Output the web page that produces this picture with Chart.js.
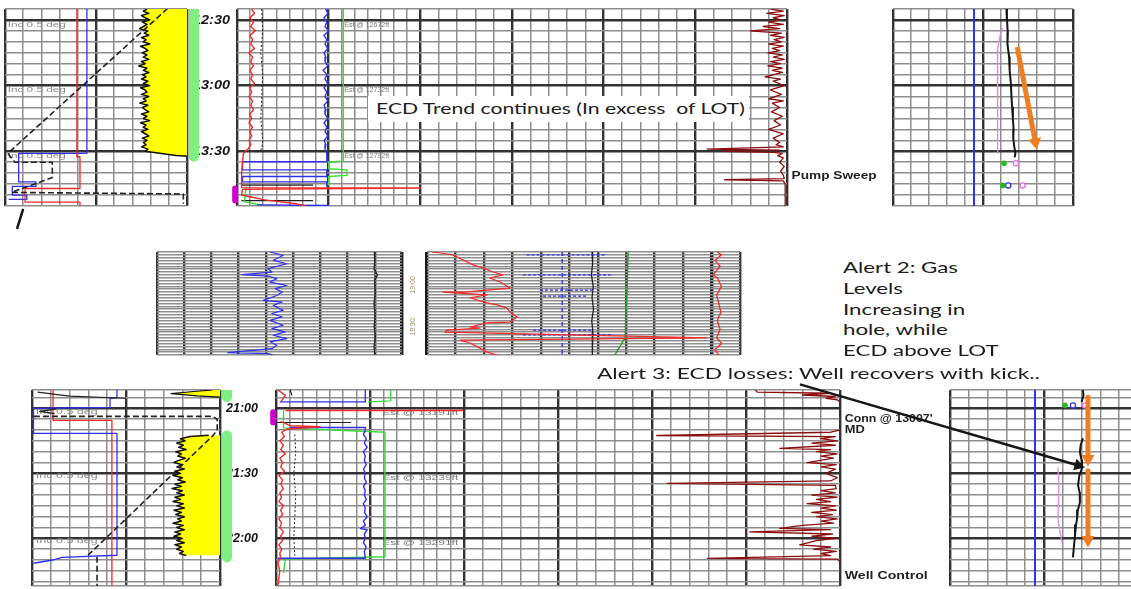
<!DOCTYPE html>
<html>
<head>
<meta charset="utf-8">
<script src="https://cdn.jsdelivr.net/npm/chart.js@4.4.0/dist/chart.umd.min.js"></script>
<style>
  html, body { margin: 0; padding: 0; background: #fff; }
  #page { position: relative; width: 1131px; height: 589px; overflow: hidden; background: #fff; }
  #page canvas { position: absolute; }
  .note { position: absolute; font-family: Lato, "Open Sans", sans-serif; font-size: 16px; line-height: 16px;
          color: #1c1c1c; white-space: pre; transform-origin: 0 0; }
  #ecdBox { position: absolute; left: 368px; top: 96px; width: 381px; height: 26px; background: #fff; }
</style>
</head>
<body>
<div id="page"></div>
<script>
// ---------- top row (time in minutes after 12:00, x in track units) ----------
const topTimeLabels = ['12:30', '13:00', '13:30'];
const topTimeAt = [30, 60, 90];
const topIncAt = [32, 62, 92];
const topDepthLabels = ['Est @ 12672ft', 'Est @ 12732ft', 'Est @ 12792ft'];
const topDepthAt = [32, 62, 92];

const aRed = [[3.95,25],[3.95,92.5],[4.12,92.5],[4.12,107],[1.1,107],[1.1,113.2],[4.12,113.2],[4.12,115]];
const aBlue = [[4.5,25],[4.5,91],[0.75,91],[0.75,104],[1.7,104],[1.7,106],[0.4,106],[0.4,110],[1.2,110],[1.2,112],[0.2,112]];
const aDash = [[9.3,22],[0.15,91],[0.55,95],[2.6,95],[2.6,102],[0.35,108.8],[9.8,109.5],[9.8,114]];
const aSlash = [[1.0,116.3],[0.66,125.5]];
const aGamma = [[7.8,25],[7.6,26],[7.9,27],[7.5,28],[7.7,29],[7.95,30],[7.55,31],[7.8,32],[7.6,33],[7.4,34],
  [7.85,35],[7.65,36],[7.9,37],[7.5,38],[7.75,39],[7.6,40],[7.95,41],[7.45,42],[7.7,43],[7.85,44],[7.55,45],
  [7.8,46],[7.6,47],[7.9,48],[7.5,49],[7.7,50],[7.35,51],[7.8,52],[7.6,53],[7.9,54],[7.55,55],[7.75,56],[7.5,57],
  [7.85,58],[7.6,59],[7.95,60],[7.45,61],[7.7,62],[7.8,63],[7.5,64],[7.9,65],[7.6,66],[7.75,67],[7.4,68],[7.85,69],
  [7.55,70],[7.7,71],[7.9,72],[7.5,73],[7.8,74],[7.6,75],[7.95,76],[7.45,77],[7.75,78],[7.6,79],[7.85,80],[7.5,81],
  [7.7,82],[7.9,83],[7.55,84],[7.8,85],[7.6,86],[7.75,87],[7.5,88],[7.85,89],[7.7,90],[8.4,90.8],[8.9,91.4],
  [9.4,91.9],[10,92.3]];
const aBar = [[1.43,25],[1.43,92.5]];

const bRed = [[0.16,25],[0.19,27],[0.14,29],[0.18,31],[0.15,33],[0.2,35],[0.14,37],[0.17,39],[0.15,41],[0.19,43],
  [0.13,45],[0.17,47],[0.15,49],[0.18,51],[0.14,53],[0.17,55],[0.15,57],[0.19,59],[0.14,61],[0.16,63],[0.13,65],
  [0.17,67],[0.15,69],[0.18,71],[0.14,73],[0.16,75],[0.13,77],[0.17,79],[0.14,81],[0.16,83],[0.13,85],[0.15,87],
  [0.12,89],[0.07,91],[0.06,95],[0.05,100],[0.05,106.6],[2.0,106.8],[0.06,107.4],[0.05,110],[0.3,112.2],[0.65,114],[0.75,115]];
const bBlue = [[0.97,25],[0.99,27],[0.95,29],[0.98,31],[0.96,33],[1.0,35],[0.95,37],[0.98,39],[0.96,41],[0.99,43],
  [0.95,45],[0.97,47],[0.96,49],[0.99,51],[0.94,53],[0.98,55],[0.96,57],[0.99,59],[0.95,61],[0.98,63],[0.96,65],
  [0.99,67],[0.95,69],[0.97,71],[0.96,73],[0.99,75],[0.95,77],[0.98,79],[0.96,81],[0.99,83],[0.95,85],[0.97,87],
  [0.96,89],[0.98,91],[0.98,94.8],[0.06,94.8],[0.06,98.5],[0.98,98.5],[0.98,101.5],[0.06,101.5],[0.06,104],
  [0.98,104],[0.98,106],[null,110],[0.22,114.5],[1.0,114.8]];
const bGreen = [[1.16,25],[1.16,94.5],[1.0,95],[1.0,98],[1.2,98.5],[1.2,101],[1.0,101.5],[1.0,105.5],
  [null,105.8],[0.1,106],[0.08,113],[0.3,115]];
const bBlackDot = [[0.27,25],[0.28,35],[0.26,45],[0.28,55],[0.27,65],[0.26,75],[0.28,85],[0.27,89],[0.2,91]];
const bBlackH = [[0.05,105.5],[0.83,105.5],[null,109],[0.05,112.5],[0.83,112.5]];
const bMark = [[-0.02,107],[-0.02,112.5]];
const bMud = [[5.82,25],[5.96,26],[5.78,27],[5.97,28],[5.85,29],[5.93,30],[5.8,31],[5.96,32],[5.74,33],[5.92,34],
  [5.6,35],[5.94,36],[5.82,37],[5.97,38],[5.86,39],[5.94,40],[5.8,41],[5.96,42],[5.84,43],[5.92,44],[5.79,45],
  [5.95,46],[5.85,47],[5.97,48],[5.82,49],[5.93,50],[5.79,51],[5.95,52],[5.84,53],[5.95,54],[5.76,56],[5.93,57],
  [5.85,58],[5.97,60],[5.82,62],[5.94,64],[5.87,65],[5.8,66],[5.96,67],[5.84,68],[5.92,70],[5.83,72],[5.95,74],
  [5.86,76],[5.93,78],[5.8,80],[5.96,82],[5.85,84],[5.92,86],[5.88,87],[5.96,88],[5.13,89],[5.92,89.5],[5.3,90],
  [5.85,90.5],[5.95,91],[5.9,92],[5.96,93],[5.92,95],[5.97,97],[5.93,99],[5.96,101],[5.97,102.5],[5.32,103],
  [5.96,103.5],[5.98,105],[5.98,115]];

const dBlue = [[4.5,25],[4.5,115]];
const dBlack = [[6.3,25],[6.33,30],[6.38,36],[6.36,41],[6.45,47],[6.48,53],[6.55,59],[6.58,65],[6.62,70],[6.66,75],
  [6.7,80],[6.68,84],[6.74,88],[6.8,91],[6.76,92.8]];
const dPink = [[6.1,33.7],[5.95,37],[5.8,43.8],[5.78,50],[5.82,58],[5.83,66.7],[5.8,75],[5.83,83],[5.82,91]];
const dArrow = [[6.9,42.4],[7.88,84.6]];
const dGreenDots = [[6.17,95.5],[6.1,105.6]];
const dBlueRings = [[6.4,105.6]];
const dPinkRings = [[6.83,95.5],[7.2,105.6]];

// ---------- middle row (rows of the strip) ----------
const midTimeLabels = ['19:00', '19:30'];
const midTimeAt = [11.5, 26.2];
const eBlue = [[4.15,0],[4.63,1.2],[4.27,2.9],[4.77,4.1],[4.08,5.8],[4.22,7],[3.12,7.9],[4.08,8.4],[4.4,9.3],[4.15,10.5],
  [4.77,11.7],[4.34,12.8],[4.6,14],[4.4,15.2],[3.9,16.9],[4.6,17.5],[4.27,18.6],[4.63,20.4],[4.22,21.5],[4.6,22.7],
  [4.15,23.9],[4.63,25.6],[4.22,26.8],[4.7,27.9],[4.27,29.1],[4.77,30.3],[4.15,31.4],[4.4,32.6],[4.22,33.8],
  [2.6,35.2],[4.08,35.5],[4.27,36]];
const eBlack = [[7.98,0],[8.0,3],[7.97,6],[8.1,8],[7.99,10],[8.02,14],[7.97,18],[8.01,22],[7.98,26],[8.02,30],[7.97,33],[8.0,36]];
const fRed = [[0.18,0],[0.46,0.35],[0.91,1],[1.27,2.8],[1.62,4.5],[1.97,5.6],[2.32,7],[2.67,8],[2.21,9.1],[2.57,10.5],
  [2.92,12.6],[1.27,14],[0.56,14],[2.11,15],[1.51,16],[2.11,17.8],[2.46,18.5],[2.81,19.6],[2.92,21],[3.16,22.7],
  [2.92,24.5],[2.11,24.8],[1.51,26.2],[1.86,26.6],[0.7,27.3],[0.63,28],[9.84,30],[1.16,30.8],[1.51,31.8],
  [1.86,33.6],[2.11,35],[2.46,36]];
const fBlueV = [[4.75,0],[4.75,36]];
const fBlueH = [[3.5,1],[6.3,1],[null,4],[3.37,8],[6.54,8],[null,11],[3.97,13.3],[5.83,13.3],[null,14],[4.08,15.4],
  [5.62,15.4],[null,20],[3.73,27.3],[5.83,27.3],[null,28],[3.37,29],[6.54,29]];
const fBlack = [[5.8,0],[5.82,4],[5.78,8],[5.84,12],[5.8,16],[5.85,20],[5.79,24],[5.83,28],[5.8,32],[5.82,36]];
const fGreen = [[7.07,0],[7.04,10],[7.0,20],[6.96,30],[6.6,36]];
const fRed2 = [[10.2,0],[10.35,1],[10.12,3],[10.3,5],[10.05,8],[10.2,9],[10.35,12],[10.18,15],[10.25,18],[10.33,21],
  [10.2,24],[10.3,27],[10.18,30],[10.36,32],[10.12,34],[10.25,36]];

// ---------- bottom row (time in minutes after 20:00) ----------
const botTimeLabels = ['21:00', '21:30', '22:00'];
const botTimeAt = [60, 90, 120];
const botIncAt = [61.5, 91, 121];
const botDepthLabels = ['Est @ 13191ft', 'Est @ 13239ft', 'Est @ 13291ft'];
const botDepthAt = [62, 92, 122];

const gBlue = [[4.52,51.5],[4.52,55],[4.15,55.5],[4.15,59.5],[0.08,60],[0.08,71.5],[4.52,71.5],[4.52,127.8],[1.6,128.8],[1.1,130],[0.08,131.5]];
const gRed = [[1.12,51.5],[1.12,65.5],[4.25,65.5],[4.25,142]];
const gDash = [[0.1,63.7],[9.6,63.7],[9.85,65],[9.85,70],[9.63,72.5],[2.98,127.8]];
const gDash2 = [[3.46,128.5],[3.46,142]];
const gBlackTop = [[0.3,52.5],[2.0,54.3],[5.0,55.3],[null,58],[1.3,60.2],[0.4,61.4],[1.2,62.4]];
const gGammaTop = [[9.6,51.5],[8.6,52.2],[7.4,53.2],[8.8,54.2],[10,54.8]];
const gGamma = [[9.4,72.4],[8.4,73],[7.9,74],[8.15,75],[7.7,76],[8.05,77],[7.8,78],[8.2,79],[7.65,80],[7.95,81],
  [7.75,82],[8.15,83],[7.8,84],[7.55,85],[8.0,86],[7.7,87],[8.1,88],[7.6,89],[7.9,90],[7.5,91],[8.0,92],[7.75,93],
  [8.15,94],[7.6,95],[7.95,96],[7.45,97],[8.0,98],[7.7,99],[8.1,100],[7.6,101],[7.9,102],[7.5,103],[8.05,104],
  [7.7,105],[8.1,106],[7.55,107],[7.95,108],[7.65,109],[8.1,110],[7.75,111],[7.95,112],[7.5,113],[8.05,114],
  [7.7,115],[8.1,116],[7.6,117],[7.9,118],[7.55,119],[8.0,120],[7.7,121],[8.1,122],[7.6,123],[7.95,124],[7.7,125],
  [8.05,126],[7.85,127],[8.2,127.9]];
const gBar = [[1.27,51.5],[1.27,54.8],[null,60],[1.27,72.5],[1.27,128.8]];

const hBlue = [[0.95,51.5],[0.95,57],[0.04,57],[null,60],[0.15,68.8],[0.95,68.8],[0.95,70],[0.93,72],[0.96,74],[0.94,76],
  [0.97,78],[0.93,80],[0.95,82],[0.94,84],[0.96,86],[0.93,88],[0.95,90],[0.94,92],[0.96,94],[0.93,96],[0.95,98],
  [0.94,100],[0.96,102],[0.93,104],[0.95,106],[0.94,108],[0.97,110],[0.93,112],[0.95,114],[0.9,115.5],[0.97,116],
  [0.94,118],[0.95,120],[0.93,122],[0.96,124],[0.94,126],[0.95,129.2],[0.02,129.2]];
const hGreen = [[1.22,51.5],[1.22,56.5],[0.98,57],[null,59],[0.08,61],[0.08,69],[1.16,71],[1.16,128.5],[0.1,129.5],[0.08,136]];
const hRed = [[0.02,51.5],[0.1,54],[0.05,57],[null,59],[0.1,61],[1.99,61],[null,63],[0.05,66],[0.15,68],[0.47,68.5],
  [0.12,69.5],[0.06,71],[0.09,73],[0.04,75],[0.08,77],[0.05,79],[0.1,81],[0.04,83],[0.07,85],[0.05,87],[0.09,89],
  [0.03,91],[0.07,93],[0.05,95],[0.08,97],[0.04,99],[0.06,101],[0.03,103],[0.08,105],[0.05,107],[0.07,109],
  [0.03,111],[0.06,113],[0.04,115],[0.08,117],[0.05,119],[0.07,121],[0.03,123],[0.06,125],[0.04,127],[0.05,129],
  [0.02,131],[0.04,135],[0.02,142]];
const hBlackDot = [[0.2,72],[0.21,80],[0.19,90],[0.21,100],[0.2,110],[0.19,120],[0.2,128]];
const hBlackH = [[0.15,51.5],[0.17,54],[null,60],[0.01,66.5],[0.8,66.5]];
const hMark = [[-0.03,61.8],[-0.03,66.5]];
const hMud = [[5.1,51.5],[5.12,52.5],[5.9,53],[5.6,53.8],[5.95,54.5],[5.85,55.4],[5.97,56],[6.0,57],[6.0,70],[5.9,71],
  [4.05,72.5],[5.95,73],[5.8,74],[5.97,75],[5.7,76],[5.95,77],[5.36,78.5],[5.9,79],[5.75,80],[5.97,81],[5.8,82],
  [5.93,83],[5.65,85],[5.96,86],[5.8,87],[5.95,88],[5.85,90],[5.97,92],[5.9,93.5],[4.16,94.6],[5.95,95.5],[5.96,97],
  [5.8,98],[5.95,99],[5.7,100],[5.97,101],[5.75,102],[5.9,103],[5.65,104],[5.95,105],[5.8,106],[5.96,107],[5.7,108],
  [5.92,109],[5.75,110],[5.97,111],[5.8,112],[5.93,113],[5.6,114],[5.36,115.4],[5.9,116],[5.04,117],[5.92,118],
  [5.7,119],[5.95,120],[5.75,121],[5.57,123],[5.9,124],[5.72,125],[5.96,126],[5.8,127],[5.9,128],[4.59,129.2],
  [5.97,129.6],[6.0,130.5],[6.0,142]];

const iBlue = [[4.52,51.5],[4.52,142]];
const iBlack1 = [[7.07,51.5],[7.1,54],[7.0,57]];
const iBlack2 = [[7.07,73.8],[6.95,77],[6.91,80.3],[7.0,84],[7.02,87.7],[6.88,91],[6.81,95.5],[6.9,99],[6.91,103.4],
  [6.8,107],[6.76,110.8],[6.7,114],[6.65,118.6],[6.6,123],[6.54,128.8]];
const iPink = [[5.74,87.2],[5.8,95.5],[5.77,103],[5.74,110.8],[5.85,117],[5.96,121.8]];
const iArrow1 = [[7.34,54.9],[7.34,82]];
const iArrow2 = [[7.34,88.8],[7.34,119.4]];
const iAlertArrow = [[-7.98,48.9],[6.69,86.0]];
const iGreenDots = [[6.12,58.6]];
const iBlueRings = [[6.54,58.6]];
const iPinkRings = [[7.18,58.6]];

// ---------- colours / grid ----------
const RED = '#f22a2a', BLUE = '#3030f0', GREEN = '#35dd35', MUD = '#8c0d0d', YELLOW = '#ffff00',
      BAR = '#80ee80', MAGENTA = '#d000d0', ORANGE = '#ef7d22', PINK = '#dc8ce0', INK = '#161616';
const GRID = [['#8e8e8e', 1.5], ['#333333', 2.4], ['#1a1a1a', 3.4]];

const page = document.getElementById('page');

function stepTicks(min, max, step, majorEvery) {
  const out = [{ value: min, lvl: 0 }];
  for (let v = Math.ceil(min / step) * step; v < max; v += step) {
    if (v > min) out.push({ value: v, lvl: v % majorEvery === 0 ? 1 : 0 });
  }
  out.push({ value: max, lvl: 0 });
  return out;
}

function trackTicks(subdivs, span) {
  const out = [];
  subdivs.forEach((n, i) => {
    out.push({ value: i * span, lvl: 1 });
    for (let k = 1; k < n; k++) out.push({ value: i * span + k * span / n, lvl: 0 });
  });
  out.push({ value: subdivs.length * span, lvl: 1 });
  return out;
}

function colTicks(n, heavy) {
  const out = [];
  for (let i = 0; i <= n; i++) out.push({ value: i, lvl: heavy.includes(i) ? 2 : 1 });
  return out;
}

function axis(min, max, ticks, extra) {
  return Object.assign({
    type: 'linear', min, max,
    display: !!ticks,
    ticks: { display: false },
    border: { display: false },
    grid: {
      drawTicks: false,
      color: c => GRID[(c.tick && c.tick.lvl) || 0][0],
      lineWidth: c => GRID[(c.tick && c.tick.lvl) || 0][1]
    },
    afterBuildTicks: s => { if (ticks) s.ticks = ticks.map(t => ({ value: t.value, lvl: t.lvl })); }
  }, extra || {});
}

function ln(pts, color, width, more) {
  return Object.assign({
    data: pts.map(p => ({ x: p[0], y: p[1] })),
    borderColor: color, backgroundColor: color, borderWidth: width,
    pointRadius: 0, fill: false
  }, more || {});
}

function dots(pts, color, ring) {
  return {
    data: pts.map(p => ({ x: p[0], y: p[1] })),
    showLine: false, pointRadius: 2.6,
    pointBackgroundColor: ring ? '#ffffff' : color,
    pointBorderColor: color, pointBorderWidth: ring ? 1.3 : 0.5
  };
}

function drawNotes(chart, items, under) {
  const { ctx, scales } = chart;
  items.forEach(n => {
    if (!!n.under !== under) return;
    ctx.save();
    ctx.font = n.font;
    ctx.fillStyle = n.color;
    ctx.textBaseline = 'middle';
    ctx.textAlign = n.align || 'left';
    ctx.translate(scales.x.getPixelForValue(n.x), scales.y.getPixelForValue(n.y));
    if (n.rot) ctx.rotate(n.rot * Math.PI / 180);
    if (n.w) ctx.scale(n.w / ctx.measureText(n.text).width, 1);
    ctx.fillText(n.text, 0, 0);
    ctx.restore();
  });
}

// arrow heads on the last segment of datasets flagged with arrowHead
Chart.register({
  id: 'arrowHeads',
  afterDatasetsDraw(chart) {
    const ctx = chart.ctx;
    chart.data.datasets.forEach((ds, i) => {
      if (!ds.arrowHead) return;
      const pts = chart.getDatasetMeta(i).data;
      const a = pts[pts.length - 2], b = pts[pts.length - 1];
      const s = ds.arrowHead;
      ctx.save();
      ctx.fillStyle = ds.borderColor;
      ctx.translate(b.x, b.y);
      ctx.rotate(Math.atan2(b.y - a.y, b.x - a.x));
      ctx.beginPath();
      ctx.moveTo(s * 1.6, 0);
      ctx.lineTo(-1, -s);
      ctx.lineTo(-1, s);
      ctx.closePath();
      ctx.fill();
      ctx.restore();
    });
  }
});

function panel(o) {
  const pad = Object.assign({ left: 3, right: 3, top: 3, bottom: 3 }, o.pad);
  const cv = document.createElement('canvas');
  cv.width = o.w + pad.left + pad.right;
  cv.height = o.h + pad.top + pad.bottom;
  cv.style.left = (o.x - pad.left) + 'px';
  cv.style.top = (o.y - pad.top) + 'px';
  page.appendChild(cv);
  const items = o.notes || [];
  return new Chart(cv, {
    type: 'line',
    data: { datasets: o.sets },
    options: {
      indexAxis: 'y',
      responsive: false,
      animation: false,
      devicePixelRatio: 1,
      events: [],
      layout: { padding: pad, autoPadding: false },
      elements: { point: { radius: 0 }, line: { tension: 0, borderJoinStyle: 'round' } },
      plugins: { legend: { display: false }, tooltip: { enabled: false } },
      scales: {
        x: axis(o.xr[0], o.xr[1], o.xt),
        y: axis(o.yr[0], o.yr[1], o.yt, { reverse: true })
      }
    },
    plugins: [{
      id: 'notes',
      beforeDatasetsDraw: c => drawNotes(c, items, true),
      afterDatasetsDraw: c => drawNotes(c, items, false)
    }]
  });
}

const TOP = { y: 9, h: 197, yr: [25, 115] };
const BOT = { y: 390, h: 196, yr: [51.5, 142] };
const topRows = stepTicks(25, 115, 5, 30);
const botRows = stepTicks(51.5, 142, 5, 30);
const midRows = stepTicks(0, 36, 1, 1000);
const smallFont = '8px "Liberation Sans", sans-serif';
const timeFont = 'italic bold 13px "Liberation Sans", sans-serif';
const tagFont = 'bold 10px "Liberation Sans", sans-serif';

// ---- top row ----
panel({ x: 5, w: 182, y: TOP.y, h: TOP.h, xr: [0, 10], yr: TOP.yr, xt: trackTicks([5, 5], 5), yt: topRows,
  pad: { bottom: 26 },
  sets: [ln(aSlash, INK, 2.5, { clip: false }), ln(aDash, '#222', 1.6, { borderDash: [6, 3] }),
         ln(aRed, RED, 1.3), ln(aBlue, BLUE, 1.3),
         ln(aGamma, '#111', 1.5, { fill: { value: 10 }, backgroundColor: YELLOW })],
  notes: topIncAt.map(t => ({ text: 'Inc 0.5 deg', x: 0.15, y: t, font: smallFont, color: '#8a8a8a', w: 58, under: true }))
});
panel({ x: 187, w: 49, y: TOP.y, h: TOP.h, xr: [0, 10], yr: TOP.yr,
  sets: [ln(aBar, BAR, 10)],
  notes: topTimeLabels.map((s, i) => ({ text: s, x: 1.22, y: topTimeAt[i], font: timeFont, color: '#151515', w: 37, under: true }))
});
panel({ x: 237, w: 550, y: TOP.y, h: TOP.h, xr: [0, 6], yr: TOP.yr, xt: trackTicks([7, 7, 5, 5, 5, 5], 1), yt: topRows,
  pad: { left: 7, right: 100 },
  sets: [ln(bMark, MAGENTA, 6, { clip: false }), ln(bRed, RED, 1.4), ln(bBlue, BLUE, 1.4), ln(bGreen, GREEN, 1.4),
         ln(bBlackDot, '#222', 1, { borderDash: [2, 2] }), ln(bBlackH, '#222', 1.2), ln(bMud, MUD, 1.3)],
  notes: topDepthLabels.map((s, i) => ({ text: s, x: 1.17, y: topDepthAt[i], font: smallFont, color: '#7a7a7a', w: 45, under: true }))
    .concat([{ text: 'Pump Sweep', x: 6.05, y: 101.5, font: tagFont, color: '#222', w: 85 }])
});
panel({ x: 893, w: 180, y: TOP.y, h: TOP.h, xr: [0, 10], yr: TOP.yr, xt: trackTicks([5, 5], 5), yt: topRows,
  sets: [ln(dArrow, ORANGE, 5, { arrowHead: 6.5 }), dots(dGreenDots, '#22bb22', false), dots(dBlueRings, BLUE, true),
         dots(dPinkRings, '#e070e0', true), ln(dBlack, INK, 2), ln(dPink, PINK, 1.3), ln(dBlue, BLUE, 2)]
});

// ---- middle row ----
panel({ x: 157, w: 245, y: 252, h: 103, xr: [0, 9], yr: [0, 36], xt: colTicks(9, [9]), yt: midRows,
  pad: { right: 22 },
  sets: [ln(eBlue, BLUE, 1.2), ln(eBlack, '#222', 1.2)],
  notes: midTimeLabels.map((s, i) => ({ text: s, x: 9.41, y: midTimeAt[i], font: '7px "Liberation Sans", sans-serif',
    color: '#9a8a5a', rot: -90, align: 'center' }))
});
panel({ x: 427, w: 313, y: 252, h: 103, xr: [0, 11], yr: [0, 36], xt: colTicks(11, [0, 10]), yt: midRows,
  sets: [ln(fRed, RED, 1.2), ln(fBlueH, BLUE, 1.2, { borderDash: [3, 2] }), ln(fBlueV, BLUE, 1.4, { borderDash: [4, 3] }),
         ln(fBlack, '#222', 1.3), ln(fGreen, '#2a9a2a', 1.4), ln(fRed2, RED, 1.3)]
});

// ---- bottom row ----
panel({ x: 32, w: 188, y: BOT.y, h: BOT.h, xr: [0, 10], yr: BOT.yr, xt: trackTicks([5, 5], 5), yt: botRows,
  sets: [ln(gDash, '#222', 1.6, { borderDash: [6, 3] }), ln(gDash2, '#222', 1.6, { borderDash: [6, 3] }),
         ln(gBlackTop, '#222', 1.2), ln(gBlue, BLUE, 1.3), ln(gRed, RED, 1.3),
         ln(gGammaTop, '#111', 1.2, { fill: { value: 10 }, backgroundColor: YELLOW }),
         ln(gGamma, '#111', 1.5, { fill: { value: 10 }, backgroundColor: YELLOW })],
  notes: botIncAt.map(t => ({ text: 'Inc 0.5 deg', x: 0.2, y: t, font: smallFont, color: '#8a8a8a', w: 62, under: true }))
});
panel({ x: 220, w: 55, y: BOT.y, h: BOT.h, xr: [0, 10], yr: BOT.yr,
  sets: [ln(gBar, BAR, 10)],
  notes: botTimeLabels.map((s, i) => ({ text: s, x: 1.09, y: botTimeAt[i], font: 'italic bold 12px "Liberation Sans", sans-serif',
    color: '#151515', w: 32, under: true }))
});
panel({ x: 276, w: 564, y: BOT.y, h: BOT.h, xr: [0, 6], yr: BOT.yr, xt: trackTicks([7, 7, 5, 5, 5, 5], 1), yt: botRows,
  pad: { left: 8, right: 100 },
  sets: [ln(hMark, MAGENTA, 6, { clip: false }), ln(hRed, RED, 1.4), ln(hBlue, BLUE, 1.4), ln(hGreen, GREEN, 1.4),
         ln(hBlackDot, '#222', 1, { borderDash: [2, 2] }), ln(hBlackH, '#222', 1.2), ln(hMud, MUD, 1.3)],
  notes: botDepthLabels.map((s, i) => ({ text: s, x: 1.13, y: botDepthAt[i], font: smallFont, color: '#7a7a7a', w: 76, under: true }))
    .concat([
      { text: "Conn @ 13007'", x: 6.05, y: 65, font: tagFont, color: '#222', w: 88 },
      { text: 'MD', x: 6.05, y: 70.2, font: tagFont, color: '#222', w: 20 },
      { text: 'Well Control', x: 6.05, y: 137.5, font: tagFont, color: '#222', w: 83 }
    ])
});
panel({ x: 950, w: 188, y: BOT.y, h: BOT.h, xr: [0, 10], yr: BOT.yr, xt: trackTicks([5, 5], 5), yt: botRows,
  pad: { left: 160, top: 10 },
  sets: [ln(iAlertArrow, INK, 2.5, { arrowHead: 6, clip: false }),
         ln(iArrow1, ORANGE, 5, { arrowHead: 6.5 }), ln(iArrow2, ORANGE, 5, { arrowHead: 6.5 }),
         dots(iGreenDots, '#22bb22', false), dots(iBlueRings, BLUE, true), dots(iPinkRings, '#e070e0', true),
         ln(iBlack1, INK, 2), ln(iBlack2, INK, 2), ln(iPink, PINK, 1.3), ln(iBlue, BLUE, 2)]
});

// ---- annotation text ----
const box = document.createElement('div');
box.id = 'ecdBox';
page.appendChild(box);

function addText(text, left, base) {
  const el = document.createElement('div');
  el.className = 'note';
  el.textContent = text;
  el.style.left = left + 'px';
  el.style.top = (base - 14) + 'px';
  page.appendChild(el);
  return el;
}
function stretch(els, w) {
  const k = w / els[0].getBoundingClientRect().width;
  els.forEach(el => { el.style.transform = 'scaleX(' + k + ')'; });
}

stretch([addText('ECD Trend continues (In excess  of LOT)', 376, 114)], 369);
stretch([addText('Alert 3: ECD losses: Well recovers with kick..', 597, 378.5)], 443);
const alert2Lines = ['Alert 2: Gas', 'Levels', 'Increasing in', 'hole, while', 'ECD above LOT'];
const alert2Base = [273, 293.8, 314.6, 335.4, 356.2];
stretch(alert2Lines.map((s, i) => addText(s, 843, alert2Base[i])), 115);
</script>
</body>
</html>
